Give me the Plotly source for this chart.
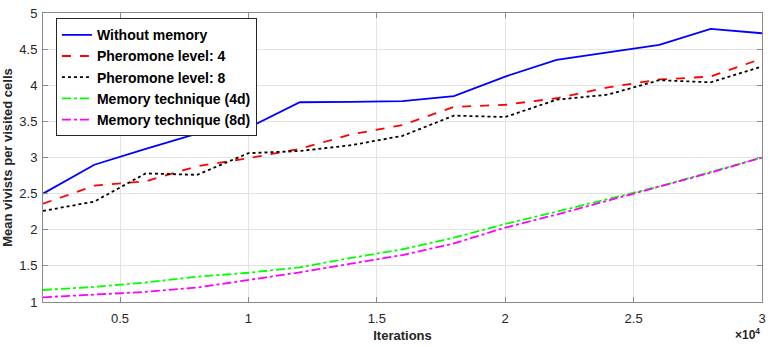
import plotly.graph_objects as go

iterations = [2000, 4000, 6000, 8000, 10000, 12000, 14000, 16000, 18000, 20000, 22000, 24000, 26000, 28000, 30000]
without_memory = [2.50, 2.90, 3.12, 3.33, 3.41, 3.765, 3.77, 3.78, 3.85, 4.12, 4.35, 4.46, 4.56, 4.78, 4.72]
pheromone_4 = [2.36, 2.61, 2.67, 2.88, 2.99, 3.12, 3.32, 3.45, 3.70, 3.73, 3.82, 3.97, 4.08, 4.12, 4.37]
pheromone_8 = [2.26, 2.39, 2.78, 2.76, 3.06, 3.09, 3.17, 3.30, 3.58, 3.56, 3.80, 3.87, 4.07, 4.04, 4.26]
memory_4d = [1.166, 1.21, 1.27, 1.35, 1.405, 1.48, 1.61, 1.73, 1.89, 2.08, 2.25, 2.42, 2.60, 2.80, 3.00]
memory_8d = [1.065, 1.10, 1.14, 1.20, 1.30, 1.41, 1.53, 1.65, 1.81, 2.03, 2.21, 2.40, 2.59, 2.79, 3.00]

series_names = ["Without memory", "Pheromone level: 4", "Pheromone level: 8",
                "Memory technique (4d)", "Memory technique (8d)"]
x_tickvals = [5000, 10000, 15000, 20000, 25000, 30000]
x_ticktext = ["0.5", "1", "1.5", "2", "2.5", "3"]
y_tickvals = [1, 1.5, 2, 2.5, 3, 3.5, 4, 4.5, 5]
y_ticktext = ["1", "1.5", "2", "2.5", "3", "3.5", "4", "4.5", "5"]

styles = [("#0000ff", "solid"), ("#ff0000", "dash"), ("#000000", "dot"),
          ("#00ff00", "dashdot"), ("#ff00ff", "dashdot")]
data = [without_memory, pheromone_4, pheromone_8, memory_4d, memory_8d]

fig = go.Figure()
for name, vals, (col, dash) in zip(series_names, data, styles):
    fig.add_trace(go.Scatter(x=iterations, y=vals, mode="lines", name="<b>" + name + "</b>",
                             line=dict(color=col, dash=dash, width=1.8)))

font_family = "Liberation Sans, Arial, sans-serif"
axis_common = dict(showgrid=True, gridcolor="#e3e3e3", gridwidth=1,
                   showline=True, linecolor="#8a8a8a", linewidth=1, mirror="ticks",
                   ticks="inside", ticklen=5, tickcolor="#8a8a8a", zeroline=False,
                   tickprefix="<b>", ticksuffix="</b>",
                   tickfont=dict(family=font_family, size=13, color="#262626"))

fig.update_layout(
    width=772, height=347,
    margin=dict(l=39, r=6, t=12, b=41),
    paper_bgcolor="white", plot_bgcolor="white",
    font=dict(family=font_family, color="#262626"),
    xaxis=dict(range=[2000, 30000], tickvals=x_tickvals, ticktext=x_ticktext,
               ticklabelstandoff=4,
               title=dict(text="<b>Iterations</b>", font=dict(size=13, family=font_family, color="#262626"), standoff=6),
               **axis_common),
    yaxis=dict(range=[1, 5], tickvals=y_tickvals, ticktext=y_ticktext,
               ticklabelstandoff=2,
               title=dict(text="<b>Mean vivists per visited cells</b>", font=dict(size=13, family=font_family, color="#262626"), standoff=4),
               **axis_common),
    legend=dict(x=0.018, y=0.982, xanchor="left", yanchor="top",
                bgcolor="white", bordercolor="#262626", borderwidth=1,
                font=dict(family=font_family, size=14, color="#000000"),
                tracegroupgap=0, itemwidth=30),
    showlegend=True,
)

fig.add_annotation(text="<b>×10<sup>4</sup></b>", xref="paper", yref="paper",
                   x=1.0, y=-0.11, xanchor="right", yanchor="middle", showarrow=False,
                   font=dict(family=font_family, size=12, color="#262626"))

fig.write_html("out.html")
